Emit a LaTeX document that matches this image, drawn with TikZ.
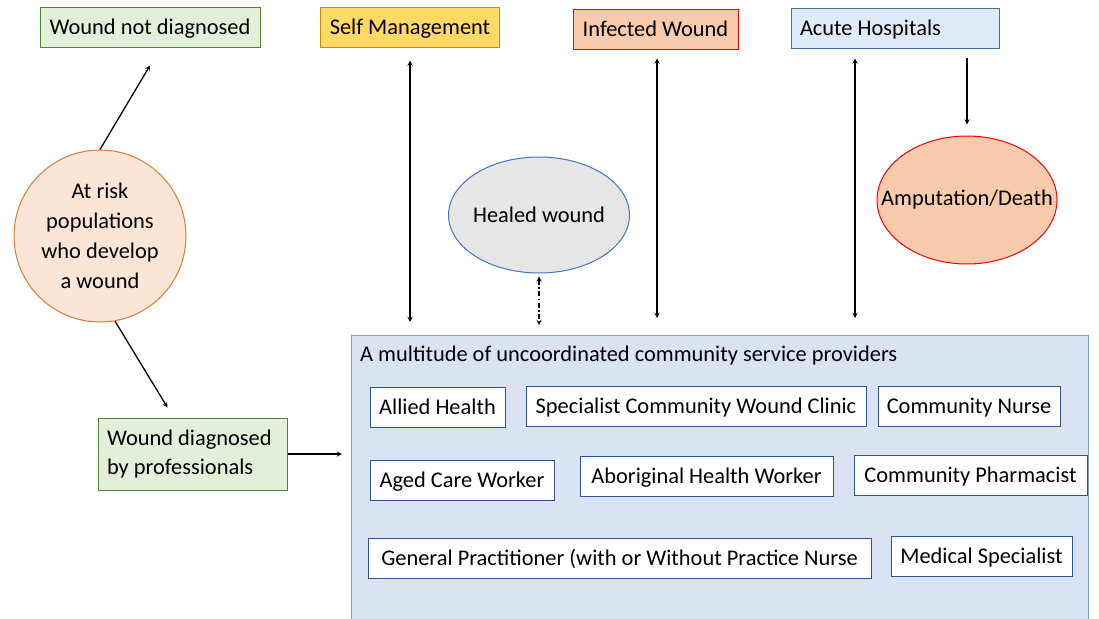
\documentclass[tikz,border=0pt]{standalone}
\usepackage{fontspec}
\setmainfont{Carlito}
\usetikzlibrary{arrows.meta,shapes.geometric}

\definecolor{greenfill}{HTML}{E2F0D9}
\definecolor{greenline}{HTML}{548235}
\definecolor{yellowfill}{HTML}{FFD966}
\definecolor{yellowline}{HTML}{BF9000}
\definecolor{salmonfill}{HTML}{F8CBAD}
\definecolor{hospfill}{HTML}{DEEBF7}
\definecolor{hospline}{HTML}{41719C}
\definecolor{riskfill}{HTML}{FBE5D6}
\definecolor{riskline}{HTML}{E07A38}
\definecolor{healfill}{HTML}{E7E6E6}
\definecolor{healline}{HTML}{4472C4}
\definecolor{provfill}{HTML}{DAE3F3}
\definecolor{provline}{HTML}{7F9ED2}
\definecolor{subline}{HTML}{2F5597}

\begin{document}
\begin{tikzpicture}[x=1pt, y=-1pt, >=stealth,
  txt/.style={font=\fontsize{22.4}{30}\selectfont},
  box/.style={txt, draw, line width=1pt, minimum height=40pt, inner sep=0pt, text height=15pt, text depth=1pt},
  sub/.style={box, draw=subline, fill=white},
  link/.style={line width=1.3pt}]
\useasboundingbox (0, 0) rectangle (1099, 618);
\clip (0, 0) rectangle (1099, 618);

%% top row of boxes
\node[box, fill=greenfill, draw=greenline, minimum width=220pt] (nd) at (150, 28) {Wound not diagnosed};
\node[box, fill=yellowfill, draw=yellowline, minimum width=179pt] (sm) at (410, 28) {Self Management};
\node[box, fill=salmonfill, draw=red, minimum width=165pt] (iw) at (655.5, 30) {Infected Wound};
\node[box, fill=hospfill, draw=hospline, inner xsep=9pt, text width=190pt, align=flush left] (ah) at (895, 29) {Acute Hospitals};

%% circle, ellipses and the diagnosed box
\node[txt, circle, draw=riskline, fill=riskfill, line width=1pt, minimum size=172pt, inner sep=0pt, align=center] (risk) at (100, 236)
  {At risk\\populations\\who develop\\a wound};
\node[txt, ellipse, draw=healline, fill=healfill, line width=1pt, minimum width=181pt, minimum height=116pt, inner sep=0pt] (heal) at (539, 215) {\makebox[0pt]{Healed wound}};
\node[txt, ellipse, draw=red, fill=salmonfill, line width=1pt, minimum width=180pt, minimum height=128pt, inner sep=0pt] (amp) at (967, 200) {\makebox[0pt]{Amputation/Death}};
\node[txt, draw=greenline, fill=greenfill, line width=1pt, minimum height=72pt, inner xsep=9pt, inner ysep=0pt,
  text width=171pt, align=flush left, font=\fontsize{22.4}{29}\selectfont] (diag) at (192.5, 454) {Wound diagnosed\\by professionals};

%% the big box of providers
\node[draw=provline, fill=provfill, line width=1pt, minimum width=737pt, minimum height=310pt, anchor=north west] (prov) at (351, 335) {};
\node[txt, anchor=west, inner sep=0pt] (title) at (360, 356) {A multitude of uncoordinated community service providers};

\node[sub, minimum width=135pt] (allied) at (437.5, 407) {Allied Health};
\node[sub, minimum width=340pt] (clinic) at (696, 406) {Specialist Community Wound Clinic};
\node[sub, minimum width=182pt] (nurse) at (969, 406) {Community Nurse};
\node[sub, minimum width=184pt] (aged) at (462, 480) {Aged Care Worker};
\node[sub, minimum width=253pt] (abor) at (706.5, 476) {Aboriginal Health Worker};
\node[sub, minimum width=233pt] (pharm) at (970.5, 475) {Community Pharmacist};
\node[sub, minimum width=503pt] (gp) at (619.5, 558) {General Practitioner (with or Without Practice Nurse};
\node[sub, minimum width=181pt] (spec) at (981.5, 556) {Medical Specialist};

%% arrows
\draw[link, ->] (risk.north) -- ([yshift=-17pt]nd.south);
\draw[link, ->] (risk.-80) -- ([xshift=70pt, yshift=10pt]diag.north west);
\draw[link, ->] (diag.east) -- ([xshift=-9pt]diag.east -| prov.west);

\draw[link, <->] ([yshift=-12pt]sm.south) -- ([yshift=13pt]sm.south |- prov.north);
\draw[link, <->] ([xshift=1.5pt, yshift=-8pt]iw.south) -- ([xshift=1.5pt, yshift=17pt]iw.south |- prov.north);
\draw[link, <->] ([xshift=-40pt, yshift=-9pt]ah.south) -- ([xshift=-40pt, yshift=17pt]ah.south |- prov.north);
\draw[link, ->] ([xshift=72pt, yshift=-9pt]ah.south) -- ([yshift=11pt]amp.north);
\draw[link, <->, dash pattern=on 5pt off 2.5pt on 1.5pt off 2.5pt] ([yshift=-3pt]heal.south) -- ([yshift=10pt]heal.south |- prov.north);
\end{tikzpicture}
\end{document}
